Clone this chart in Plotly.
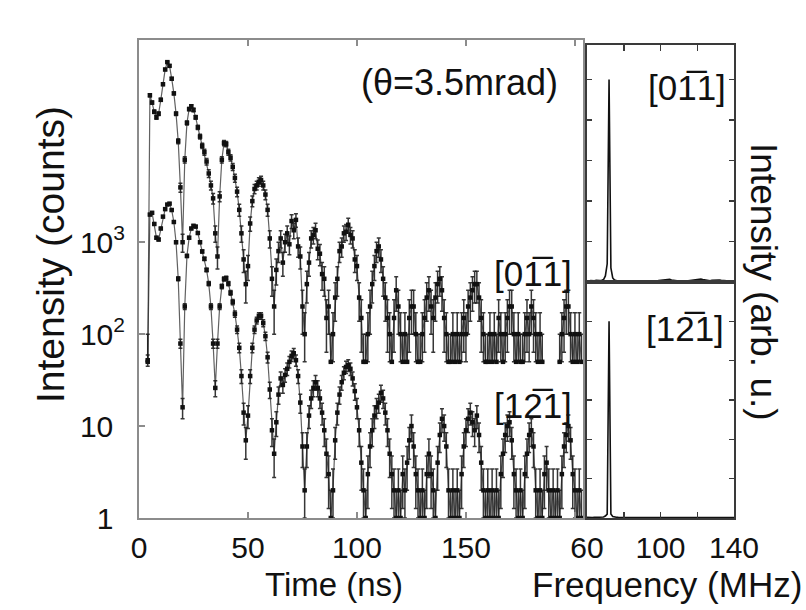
import math
import plotly.graph_objects as go

# ---------------- data ----------------
# time bins (ns), 1 ns wide
time_ns = list(range(4, 204))

# [0-11] raw counts (plotted shifted up by offset_011)
counts_011 = [
    1, 794, 661, 525, 457, 501, 708, 1047, 1514, 1820,
    1660, 1202, 832, 501, 251, 79, 20, 158, 398, 562,
    603, 550, 457, 355, 282, 224, 191, 151, 112, 83,
    60, 25, 14, 63, 158, 240, 234, 191, 166, 132,
    100, 71, 45, 25, 13, 7, 11, 32, 56, 76,
    83, 91, 95, 83, 66, 45, 22, 8, 4, 10,
    16, 22, 12, 20, 25, 19, 34, 27, 35, 18,
    14, 4, 2, 7, 12, 22, 24, 27, 17, 15,
    9, 8, 3, 4, 1, 2, 5, 8, 16, 18,
    25, 26, 31, 24, 22, 13, 11, 5, 3, 1,
    1, 2, 4, 7, 11, 16, 18, 13, 8, 5,
    3, 2, 1, 3, 6, 4, 2, 1, 2, 1,
    3, 4, 4, 2, 1, 1, 2, 3, 5, 6,
    4, 3, 5, 7, 8, 6, 3, 2, 1, 1,
    2, 1, 2, 1, 2, 3, 2, 4, 5, 6,
    7, 7, 5, 3, 2, 1, 1, 2, 1, 2,
    1, 3, 2, 1, 2, 3, 4, 4, 2, 1,
    2, 1, 1, 2, 3, 2, 4, 3, 2, 1,
    2, 1, 0, 0, 0, 0, 0, 0, 0, 1,
    2, 3, 4, 4, 2, 1, 2, 1, 2, 1,
]
offset_011 = 50

# [1-21] raw counts
counts_121 = [
    52, 2000, 2090, 1580, 1120, 1070, 1410, 1900, 2290, 2570,
    2630, 2240, 1660, 1000, 400, 79, 16, 200, 710, 1120,
    1410, 1510, 1480, 1260, 1000, 794, 660, 500, 355, 200,
    79, 26, 79, 200, 331, 398, 407, 355, 282, 224,
    166, 112, 71, 35, 14, 7, 13, 35, 71, 112,
    141, 158, 158, 132, 95, 56, 25, 9, 5, 11,
    22, 33, 28, 36, 42, 50, 58, 62, 52, 35,
    18, 6, 2, 6, 13, 20, 26, 30, 26, 20,
    14, 9, 5, 3, 1, 2, 7, 14, 22, 30,
    38, 44, 46, 42, 33, 24, 16, 9, 4, 2,
    1, 3, 6, 9, 13, 16, 18, 23, 20, 14,
    9, 5, 3, 2, 1, 2, 1, 3, 2, 4,
    7, 10, 6, 3, 2, 1, 2, 1, 3, 5,
    3, 2, 1, 4, 8, 12, 10, 6, 2, 1,
    2, 1, 2, 1, 3, 6, 9, 12, 14, 11,
    9, 13, 8, 4, 2, 1, 2, 1, 2, 1,
    2, 1, 3, 5, 8, 10, 11, 7, 3, 2,
    1, 2, 1, 3, 5, 8, 9, 6, 2, 1,
    2, 1, 3, 4, 2, 1, 2, 1, 2, 1,
    3, 6, 8, 10, 7, 3, 2, 1, 2, 1,
]

# Fourier spectra (arb. u.)
freq_mhz = list(range(60, 141))
fft_011 = [
    0.006, 0.004, 0.007, 0.005, 0.006, 0.008, 0.006, 0.007, 0.009, 0.012,
    0.030, 0.090, 1.000, 0.070, 0.020, 0.010, 0.007, 0.006, 0.005, 0.006,
    0.005, 0.004, 0.006, 0.005, 0.004, 0.005, 0.006, 0.004, 0.005, 0.004,
    0.005, 0.006, 0.004, 0.005, 0.006, 0.005, 0.004, 0.006, 0.005, 0.007,
    0.008, 0.010, 0.012, 0.014, 0.015, 0.013, 0.010, 0.008, 0.006, 0.005,
    0.005, 0.006, 0.005, 0.004, 0.005, 0.006, 0.007, 0.008, 0.010, 0.012,
    0.013, 0.015, 0.014, 0.012, 0.010, 0.008, 0.007, 0.006, 0.008, 0.009,
    0.010, 0.012, 0.010, 0.008, 0.007, 0.006, 0.005, 0.006, 0.005, 0.004,
    0.005,
]
fft_121 = [
    0.003, 0.002, 0.003, 0.002, 0.003, 0.004, 0.003, 0.003, 0.004, 0.005,
    0.010, 0.020, 1.000, 0.020, 0.008, 0.005, 0.004, 0.003, 0.003, 0.002,
    0.003, 0.002, 0.003, 0.002, 0.003, 0.002, 0.003, 0.004, 0.003, 0.002,
    0.003, 0.002, 0.003, 0.004, 0.003, 0.002, 0.003, 0.002, 0.003, 0.004,
    0.004, 0.005, 0.004, 0.003, 0.004, 0.003, 0.002, 0.003, 0.002, 0.003,
    0.002, 0.003, 0.004, 0.003, 0.002, 0.003, 0.002, 0.003, 0.004, 0.005,
    0.004, 0.005, 0.004, 0.003, 0.002, 0.003, 0.002, 0.003, 0.004, 0.003,
    0.002, 0.003, 0.004, 0.003, 0.002, 0.003, 0.002, 0.003, 0.002, 0.003,
    0.002,
]

# ---------------- helpers ----------------
W, H = 806, 610
def px(x):
    return x / W
def py(y):
    return 1 - y / H

def series(counts, scale):
    vals, ep, em = [], [], []
    for c in counts:
        if c <= 0:
            vals.append(None); ep.append(None); em.append(None)
        else:
            s = math.sqrt(c)
            vals.append(c * scale)
            ep.append(s * scale)
            em.append(min(s, c - 1) * scale)
    return vals, ep, em

FONT = "Liberation Sans, Arial, Helvetica, sans-serif"
INK = "#111111"
FRAME_L = "#8c8c8c"
FRAME_R = "#3a3a3a"

fig = go.Figure()

for counts, scale in [(counts_011, offset_011), (counts_121, 1)]:
    v, ep, em = series(counts, scale)
    fig.add_trace(go.Scatter(
        x=time_ns, y=v, mode="lines+markers",
        line=dict(color="rgba(30,30,30,0.7)", width=1.2),
        marker=dict(size=4.5, color=INK, symbol="square"),
        error_y=dict(type="data", array=ep, arrayminus=em, symmetric=False,
                     color="rgba(20,20,20,0.85)", thickness=1.5, width=2),
        xaxis="x", yaxis="y", showlegend=False, connectgaps=False,
        hoverinfo="skip",
    ))

fig.add_trace(go.Scatter(x=freq_mhz, y=fft_011, mode="lines",
                         line=dict(color=INK, width=1.6), hoverinfo="skip",
                         xaxis="x2", yaxis="y2", showlegend=False))
fig.add_trace(go.Scatter(x=freq_mhz, y=fft_121, mode="lines",
                         line=dict(color=INK, width=1.6), hoverinfo="skip",
                         xaxis="x3", yaxis="y3", showlegend=False))

tickfont = dict(family=FONT, size=30, color=INK)

fig.update_layout(
    width=W, height=H, autosize=False,
    margin=dict(l=0, r=0, t=0, b=0, pad=0),
    paper_bgcolor="white", plot_bgcolor="white",
    font=dict(family=FONT, color=INK),
    xaxis=dict(domain=[px(139), px(583)], range=[0, 203.7], automargin=False,
               tickvals=[0, 50, 100, 150], ticktext=["0", "50", "100", "150"],
               minor=dict(tickvals=[200], ticks="inside", ticklen=6, tickwidth=1.5, tickcolor=FRAME_L),
               ticks="inside", ticklen=6, tickwidth=1.5, tickcolor=FRAME_L,
               showline=True, linecolor=FRAME_L, linewidth=2, mirror="ticks",
               showgrid=False, zeroline=False, tickfont=tickfont, anchor="y",
               ticklabelstandoff=2),
    yaxis=dict(domain=[py(518), py(40)], type="log", range=[0, 5.2], automargin=False,
               tickvals=[1, 10, 100, 1000],
               ticktext=["1<sup>\u2007</sup>", "10<sup>\u2007</sup>", "10<sup>2</sup>", "10<sup>3</sup>"],
               ticks="inside", ticklen=6, tickwidth=1.5, tickcolor=FRAME_L,
               showline=True, linecolor=FRAME_L, linewidth=2, mirror=True,
               showgrid=False, zeroline=False, tickfont=tickfont, anchor="x",
               ticklabelstandoff=6),
    xaxis2=dict(domain=[px(587), px(734)], range=[60, 140], dtick=20, side="top",
                automargin=False,
                ticks="inside", ticklen=6, tickwidth=1.5, tickcolor=FRAME_R,
                showline=True, linecolor=FRAME_R, linewidth=2, mirror=True,
                showticklabels=False, showgrid=False, zeroline=False, anchor="y2"),
    yaxis2=dict(domain=[py(282), py(45)], range=[0, 1.17], dtick=0.2, automargin=False,
                ticks="inside", ticklen=5, tickwidth=1.5, tickcolor=FRAME_R,
                showline=True, linecolor=FRAME_R, linewidth=2, mirror="ticks",
                showticklabels=False, showgrid=False, zeroline=False, anchor="x2"),
    xaxis3=dict(domain=[px(587), px(734)], range=[60, 140], automargin=False,
                tickvals=[60, 100, 140], ticktext=["60", "100", "140"],
                minor=dict(tickvals=[80, 120], ticks="inside", ticklen=6, tickwidth=1.5, tickcolor=FRAME_R),
                ticks="inside", ticklen=6, tickwidth=1.5, tickcolor=FRAME_R,
                showline=True, linecolor=FRAME_R, linewidth=2, mirror=True,
                showgrid=False, zeroline=False, tickfont=tickfont, anchor="y3",
                ticklabelstandoff=2),
    yaxis3=dict(domain=[py(518), py(282)], range=[0, 1.2], dtick=0.2, automargin=False,
                ticks="inside", ticklen=5, tickwidth=1.5, tickcolor=FRAME_R,
                showline=True, linecolor=FRAME_R, linewidth=2, mirror="ticks",
                showticklabels=False, showgrid=False, zeroline=False, anchor="x3"),
)

def ann(text, x, y, size, angle=0, xanchor="center"):
    fig.add_annotation(text=text, x=px(x), y=py(y), xref="paper", yref="paper",
                       showarrow=False, textangle=angle, xanchor=xanchor, yanchor="middle",
                       font=dict(family=FONT, size=size, color=INK))

ann("Intensity (counts)", 50, 255, 39, angle=-90)
ann("Time (ns)", 334, 584, 33)
ann("Frequency (MHz)", 804, 584, 35, xanchor="right")
ann("Intensity (arb. u.)", 764, 282, 37, angle=90)
ann("(\u03b8=3.5mrad)", 460, 83, 36)
ann("[01\u03051]", 533, 273, 35)
ann("[12\u03051]", 533, 405, 35)
ann("[01\u03051]", 687, 88, 35)
ann("[12\u03051]", 685, 328, 35)

fig.write_html(
    "out.html",
    config={"displayModeBar": False, "staticPlot": True},
    post_script="document.body.style.margin='0px';document.body.style.padding='0px';document.body.style.overflow='hidden';",
)
